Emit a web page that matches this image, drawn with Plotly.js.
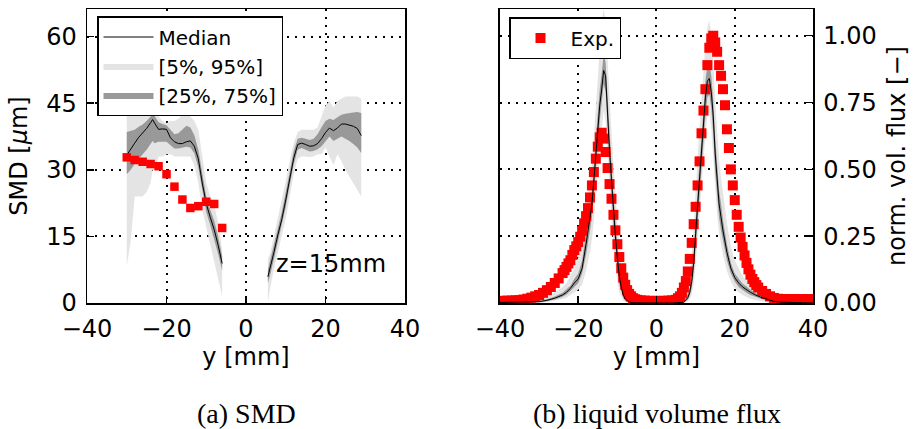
<!DOCTYPE html>
<html>
<head>
<meta charset="utf-8">
<script src="https://cdn.plot.ly/plotly-3.0.1.min.js"></script>
<style>html,body{margin:0;padding:0;background:#fff;}#plot{width:913px;height:429px;}</style>
</head>
<body>
<div id="plot"></div>
<script>
// ---------- (a) SMD, left flank ----------
const smdXL = [-30,-29,-28,-27,-26,-25,-24,-23.5,-23,-22,-21,-20,-19,-18,-17,-16,-15,-14,-13,-12,-11,-10,-9,-8,-7,-6];
const smdMedL = [33.3,34.8,36.0,37.3,38.3,39.3,40.6,41.3,40.5,39.1,39.2,39.1,37.2,36.3,35.9,35.9,36.3,36.5,35.3,32.5,27.0,22.4,19.3,16.5,13.0,8.9];
const smdP75L = [38.5,38.7,39.0,39.7,40.2,41.0,42.0,42.8,42.0,40.7,40.3,40.0,39.0,38.0,38.2,39.0,39.9,39.5,37.8,34.5,29.0,24.0,21.0,18.5,15.0,10.5];
const smdP25L = [29.0,30.0,31.3,32.5,33.5,34.5,35.8,36.5,36.0,36.3,36.3,36.3,35.5,34.8,34.8,35.0,35.2,35.0,33.7,30.5,25.0,20.5,17.5,14.5,11.0,7.3];
const smdP95L = [46,46,46,45,45,45,45,46,45,42,41,40.5,41,41,41.5,42.5,43,42,41,39,33,27,24,22,18,12];
const smdP5L  = [8.2,14,24,24,24,25,27,30,30,33,33,33.5,33.5,33,33,33,33,33,31,27,21,17,13,9,5,1.5];
// ---------- (a) SMD, right flank ----------
const smdXR = [5.5,6,7,8,9,10,11,12,13,14,15,16,17,18,19,20,21,22,23,24,25,26,27,28,29];
const smdMedR = [5.9,7.5,11.3,15.3,18.8,23.2,28.0,32.6,35.7,36.0,35.7,35.3,35.4,35.9,37.0,38.4,39.4,38.8,39.4,40.3,40.3,40.1,39.8,39.3,37.7];
const smdP75R = [7.5,9.3,13,17,20.5,25,29.8,34.2,37,37.2,37.0,36.7,37,38,39.6,41,41.5,41.2,41.8,42.4,42.6,42.8,42.9,43,42.8];
const smdP25R = [4.5,6,9.8,13.8,17.2,21.6,26.5,31.2,34.5,34.9,34.5,34.1,34.2,34.6,35.3,36.5,37.5,36.5,37.0,37.5,37,36.5,35.8,35,33.8];
const smdP95R = [10,11,15,19,23,27.5,32,36,38.5,39,39,39,39,39.5,42,44.5,45.5,44,45.5,46,46.5,46.5,46.5,46.5,46];
const smdP5R  = [0,3,7.5,11.5,15,19,24,29,32.5,33,33,32.8,33,33.5,33.5,35,33,31,33.5,32,30,28.5,27,25.5,24];
// ---------- (a) SMD experiment ----------
const smdExpX = [-30,-28,-26,-24,-22,-20,-18,-16,-14,-12,-10,-8,-6];
const smdExpY = [32.8,32.2,31.8,31.3,30.8,29.0,26.2,23.3,21.4,21.8,22.8,22.3,16.9];

// ---------- (b) flux, simulation ----------
const fluxX = [-40,-35,-30,-28,-26,-24,-23,-22,-21,-20,-19,-18,-17,-16.5,-16,-15.5,-15,-14.5,-14,-13.5,-13,-12.5,-12,-11.5,-11,-10.5,-10,-9.5,-9,-8.5,-8,-7,-6,-4,0,4,6,7,8,8.5,9,9.5,10,10.5,11,11.5,12,12.5,13,13.5,14,14.5,15,15.5,16,16.5,17,18,19,20,21,22,23,24,26,28,30,32,35,40];
const fluxMed = [0.002,0.003,0.005,0.01,0.018,0.03,0.04,0.055,0.075,0.09,0.13,0.22,0.31,0.37,0.46,0.56,0.66,0.74,0.80,0.87,0.85,0.70,0.57,0.46,0.34,0.25,0.17,0.10,0.06,0.03,0.015,0.004,0.001,0,0,0,0.001,0.003,0.02,0.04,0.08,0.15,0.26,0.37,0.47,0.56,0.68,0.77,0.83,0.84,0.79,0.70,0.56,0.45,0.37,0.32,0.27,0.19,0.13,0.095,0.075,0.06,0.05,0.04,0.025,0.014,0.006,0.003,0.001,0];
const fluxP5  = [0,0,0,0.003,0.008,0.015,0.02,0.03,0.04,0.05,0.07,0.12,0.19,0.24,0.31,0.40,0.50,0.58,0.65,0.72,0.68,0.55,0.42,0.32,0.22,0.14,0.08,0.04,0.02,0.008,0.003,0,0,0,0,0,0,0,0.005,0.015,0.03,0.07,0.14,0.24,0.33,0.42,0.54,0.63,0.70,0.71,0.65,0.55,0.42,0.33,0.26,0.22,0.18,0.12,0.08,0.055,0.04,0.03,0.022,0.016,0.008,0.003,0,0,0,0];
const fluxP25 = [0,0.001,0.003,0.007,0.013,0.023,0.032,0.045,0.06,0.075,0.11,0.18,0.27,0.32,0.40,0.50,0.60,0.68,0.75,0.82,0.79,0.65,0.52,0.41,0.29,0.20,0.13,0.07,0.04,0.02,0.008,0.001,0,0,0,0,0,0.001,0.012,0.028,0.055,0.11,0.20,0.30,0.40,0.49,0.61,0.70,0.77,0.78,0.73,0.63,0.49,0.39,0.32,0.27,0.23,0.16,0.11,0.08,0.06,0.048,0.038,0.03,0.018,0.009,0.003,0.001,0,0];
const fluxP75 = [0.004,0.005,0.008,0.014,0.024,0.038,0.05,0.065,0.09,0.11,0.16,0.26,0.36,0.42,0.52,0.62,0.72,0.80,0.86,0.93,0.90,0.76,0.63,0.52,0.40,0.30,0.21,0.13,0.08,0.045,0.025,0.008,0.002,0,0,0,0.003,0.008,0.035,0.06,0.11,0.19,0.31,0.43,0.53,0.62,0.74,0.83,0.89,0.90,0.85,0.76,0.62,0.51,0.42,0.37,0.31,0.22,0.15,0.11,0.09,0.072,0.062,0.05,0.032,0.02,0.01,0.005,0.002,0];
const fluxP95 = [0.008,0.01,0.015,0.025,0.04,0.06,0.075,0.10,0.13,0.17,0.24,0.34,0.45,0.52,0.62,0.74,0.85,0.95,1.05,1.10,1.05,0.90,0.76,0.64,0.52,0.40,0.30,0.20,0.13,0.08,0.05,0.02,0.008,0.002,0,0.002,0.01,0.025,0.07,0.11,0.18,0.28,0.42,0.55,0.66,0.76,0.88,0.97,1.03,1.06,1.0,0.90,0.76,0.64,0.54,0.47,0.41,0.30,0.21,0.16,0.13,0.10,0.085,0.07,0.05,0.032,0.02,0.012,0.006,0.002];
// ---------- (b) flux, experiment ----------
const expX = [-40,-39,-38,-37,-36,-35,-34,-33,-32,-31,-30,-29,-28,-27,-26,-25,-24,-23.5,-23,-22.5,-22,-21.5,-21,-20.5,-20,-19.5,-19,-18.5,-18,-17.5,-17,-16.5,-16,-15.5,-15,-14.5,-14,-13.5,-13,-12.5,-12,-11.5,-11,-10.5,-10,-9.5,-9,-8.5,-8,-7.5,-7,-6.5,-6,-5.5,-5,-4,-3,-2,-1,0,1,2,3,4,5,5.5,6,6.5,7,7.5,8,8.5,9,9.5,10,10.5,11,11.5,12,12.5,13,13.5,14,14.5,15,15.5,16,16.5,17,17.5,18,18.5,19,19.5,20,20.5,21,21.5,22,22.5,23,23.5,24,24.5,25,25.5,26,27,28,29,30,31,32,33,34,35,36,37,38,39,40];
const expY = [0.008,0.008,0.009,0.009,0.010,0.011,0.013,0.016,0.020,0.025,0.030,0.038,0.048,0.060,0.075,0.092,0.112,0.123,0.135,0.148,0.160,0.180,0.198,0.212,0.228,0.248,0.270,0.298,0.325,0.355,0.395,0.440,0.490,0.540,0.585,0.620,0.637,0.615,0.565,0.505,0.445,0.390,0.330,0.272,0.220,0.172,0.130,0.095,0.068,0.048,0.034,0.025,0.018,0.014,0.012,0.010,0.009,0.008,0.008,0.008,0.008,0.008,0.009,0.010,0.012,0.018,0.025,0.038,0.058,0.082,0.118,0.165,0.225,0.295,0.360,0.440,0.530,0.635,0.720,0.800,0.890,0.955,0.990,1.000,0.975,0.940,0.890,0.850,0.800,0.740,0.650,0.580,0.500,0.440,0.385,0.330,0.285,0.245,0.210,0.178,0.150,0.126,0.106,0.090,0.078,0.067,0.058,0.045,0.034,0.025,0.019,0.016,0.015,0.015,0.015,0.015,0.015,0.015,0.015,0.015,0.015];

const xTicks = [-40,-20,0,20,40];
const smdTicks = [0,15,30,45,60];
const fluxTicks = [0,0.25,0.5,0.75,1.0];
const legendNames = ['Median','[5%, 95%]','[25%, 75%]','Exp.'];

const LIGHT = '#e4e4e4', DARK = '#999999', RED = '#ff0000';
const FONT = 'DejaVu Sans, sans-serif';
const SERIF = 'Liberation Serif, Times New Roman, serif';

function band(x, lo, hi, color, xa, ya, name, show, rank) {
  return [
    {x: x, y: lo, xaxis: xa, yaxis: ya, mode: 'lines', line: {width: 0, color: color}, showlegend: false, hoverinfo: 'skip'},
    {x: x, y: hi, xaxis: xa, yaxis: ya, mode: 'lines', line: {width: 0, color: color}, fill: 'tonexty', fillcolor: color,
     name: name, showlegend: show, legendrank: rank, legend: 'legend'}
  ];
}
function medLine(x, y, xa, ya, show) {
  return {x: x, y: y, xaxis: xa, yaxis: ya, mode: 'lines', line: {color: '#000', width: 1},
          name: legendNames[0], showlegend: show, legendrank: 1, legend: 'legend'};
}

const traces = [].concat(
  band(smdXL, smdP5L, smdP95L, LIGHT, 'x', 'y', legendNames[1], true, 2),
  band(smdXR, smdP5R, smdP95R, LIGHT, 'x', 'y', legendNames[1], false, 2),
  band(smdXL, smdP25L, smdP75L, DARK, 'x', 'y', legendNames[2], true, 3),
  band(smdXR, smdP25R, smdP75R, DARK, 'x', 'y', legendNames[2], false, 3),
  [medLine(smdXL, smdMedL, 'x', 'y', true), medLine(smdXR, smdMedR, 'x', 'y', false)],
  [{x: smdExpX, y: smdExpY, xaxis: 'x', yaxis: 'y', mode: 'markers', marker: {symbol: 'square', size: 8.5, color: RED}, showlegend: false}],
  band(fluxX, fluxP5, fluxP95, LIGHT, 'x2', 'y2', legendNames[1], false, 2),
  band(fluxX, fluxP25, fluxP75, DARK, 'x2', 'y2', legendNames[2], false, 3),
  [{x: expX, y: expY, xaxis: 'x2', yaxis: 'y2', mode: 'markers', marker: {symbol: 'square', size: 10, color: RED},
    name: legendNames[3], showlegend: true, legend: 'legend2'}],
  [medLine(fluxX, fluxMed, 'x2', 'y2', false)]
);

const axisCommon = {
  showline: true, linecolor: '#000', linewidth: 1.5, mirror: true,
  ticks: 'inside', ticklen: 7, tickwidth: 1.5, tickcolor: '#000',
  showgrid: true, gridcolor: '#000', gridwidth: 2, griddash: '2px,6px',
  zeroline: false, tickfont: {family: FONT, size: 24, color: '#000'},
  ticklabelstandoff: 4, automargin: false
};
const yDom = [0.2937, 0.979];
const titleFont = {family: FONT, size: 24, color: '#000'};

const layout = {
  width: 913, height: 429,
  margin: {l: 0, r: 0, t: 0, b: 0},
  paper_bgcolor: '#fff', plot_bgcolor: '#fff',
  font: {family: FONT, color: '#000'},
  xaxis: Object.assign({}, axisCommon, {domain: [0.0953, 0.4436], range: [-40, 40], tickvals: xTicks, anchor: 'y',
    title: {text: 'y [mm]', font: titleFont, standoff: 4}}),
  yaxis: Object.assign({}, axisCommon, {domain: yDom, range: [0, 66.2], tickvals: smdTicks, anchor: 'x',
    title: {text: 'SMD [<i>μ</i>m]', font: titleFont, standoff: 12}}),
  xaxis2: Object.assign({}, axisCommon, {domain: [0.5476, 0.8905], range: [-40, 40], tickvals: xTicks, anchor: 'y2',
    title: {text: 'y [mm]', font: titleFont, standoff: 4}}),
  yaxis2: Object.assign({}, axisCommon, {domain: yDom, range: [0, 1.1], tickvals: fluxTicks, tickformat: '.2f', anchor: 'x2', side: 'right',
    title: {text: 'norm. vol. flux [−]', font: titleFont, standoff: 12}}),
  legend: {x: 97/913, y: 1 - 16/429, xanchor: 'left', yanchor: 'top', bgcolor: '#fff', bordercolor: '#000', borderwidth: 1.5,
    font: {family: FONT, size: 20, color: '#000'}, traceorder: 'normal', tracegroupgap: 0, itemwidth: 50},
  legend2: {x: 509/913, y: 1 - 17/429, xanchor: 'left', yanchor: 'top', bgcolor: '#fff', bordercolor: '#000', borderwidth: 1.5,
    font: {family: FONT, size: 20, color: '#000'}, itemwidth: 50},
  annotations: [
    {text: 'z=15mm', xref: 'x', yref: 'y', x: 21.4, y: 8.8, xanchor: 'center', yanchor: 'middle', showarrow: false,
     font: {family: FONT, size: 24, color: '#000'}},
    {text: '(a) SMD', xref: 'paper', yref: 'paper', x: 246/913, y: 1 - 413/429, xanchor: 'center', yanchor: 'middle', showarrow: false,
     font: {family: SERIF, size: 28, color: '#000'}},
    {text: '(b) liquid volume flux', xref: 'paper', yref: 'paper', x: 657/913, y: 1 - 413/429, xanchor: 'center', yanchor: 'middle', showarrow: false,
     font: {family: SERIF, size: 28, color: '#000'}}
  ],
  showlegend: true
};

Plotly.newPlot('plot', traces, layout, {staticPlot: true, displayModeBar: false});
</script>
</body>
</html>
